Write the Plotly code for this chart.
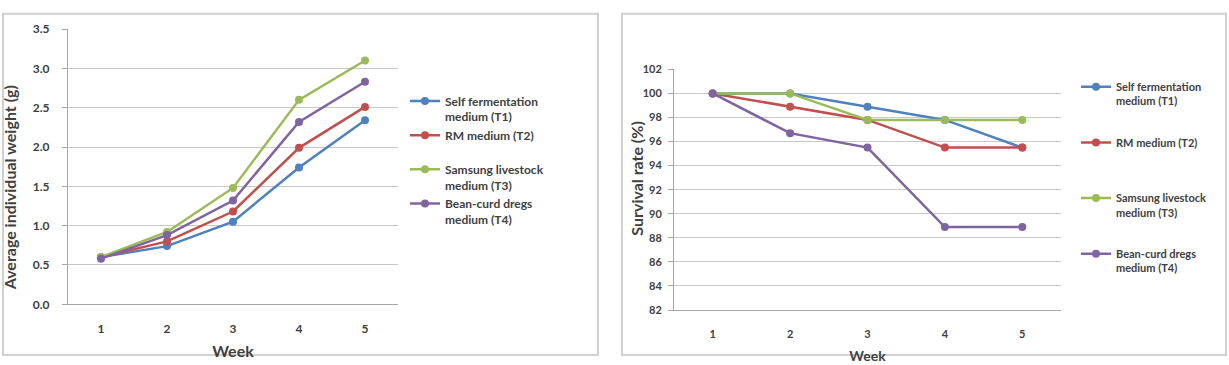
import plotly.graph_objects as go

weeks = [1, 2, 3, 4, 5]
series_names = ["Self fermentation<br>medium (T1)", "RM medium (T2)<br> ",
                "Samsung livestock<br>medium (T3)", "Bean-curd dregs<br>medium (T4)"]
colors = ["#4F81BD", "#C0504D", "#9BBB59", "#8064A2"]

weight_T1 = [0.60, 0.74, 1.05, 1.74, 2.34]
weight_T2 = [0.60, 0.80, 1.18, 1.99, 2.51]
weight_T3 = [0.60, 0.92, 1.48, 2.60, 3.10]
weight_T4 = [0.58, 0.88, 1.32, 2.32, 2.83]

surv_T1 = [100, 100, 98.9, 97.8, 95.5]
surv_T2 = [100, 98.9, 97.8, 95.5, 95.5]
surv_T3 = [100, 100, 97.8, 97.8, 97.8]
surv_T4 = [100, 96.7, 95.5, 88.9, 88.9]

weights = [weight_T1, weight_T2, weight_T3, weight_T4]
survs = [surv_T1, surv_T2, surv_T3, surv_T4]

W, H = 1229, 365
FONT = "Lato"
TXT = "#404040"

fig = go.Figure()
for i in range(4):
    fig.add_trace(go.Scatter(x=weeks, y=weights[i], name=series_names[i],
                             mode="lines+markers", line=dict(color=colors[i], width=2.5),
                             marker=dict(size=8, color=colors[i]),
                             xaxis="x", yaxis="y", legend="legend", legendgroup="a%d" % i))
for i in range(4):
    fig.add_trace(go.Scatter(x=weeks, y=survs[i], name=series_names[i],
                             mode="lines+markers", line=dict(color=colors[i], width=2.5),
                             marker=dict(size=8, color=colors[i]),
                             xaxis="x2", yaxis="y2", legend="legend2", legendgroup="b%d" % i))

def px(x):
    return x / W

def py(y):
    return 1 - y / H

grid = "#c8c8c8"
axline = "#a6a6a6"

def xax(title_size, lab_size, lab_off, title_off):
    return dict(tickmode="array", tickvals=weeks, range=[0.5, 5.5], showgrid=False,
                showline=True, linecolor=axline, linewidth=1, ticks="", zeroline=False,
                ticklabelstandoff=lab_off,
                tickfont=dict(family=FONT, size=lab_size, color=TXT, weight="bold"),
                title=dict(text="Week", font=dict(family=FONT, size=title_size, color=TXT, weight="bold"), standoff=title_off))

def yax(lab_size, lab_off):
    return dict(showgrid=True, gridcolor=grid, gridwidth=1, showline=True, linecolor=axline,
                linewidth=1, ticks="outside", ticklen=5, tickcolor=axline, zeroline=False,
                ticklabelstandoff=lab_off,
                tickfont=dict(family=FONT, size=lab_size, color=TXT, weight="bold"))

fig.update_layout(
    width=W, height=H, margin=dict(l=0, r=0, t=0, b=0),
    paper_bgcolor="white", plot_bgcolor="white",
    xaxis=dict(domain=[px(68), px(398)], anchor="y", **xax(16, 12, 13, 11)),
    yaxis=dict(domain=[py(309), py(22)], anchor="x", range=[0, 3.5], dtick=0.5, tickformat=".1f",
               **yax(12, 10)),
    xaxis2=dict(domain=[px(674), px(1061)], anchor="y2", **xax(14, 11, 14, 11)),
    yaxis2=dict(domain=[py(315), py(64)], anchor="x2", range=[82, 102], dtick=2,
                **yax(11, 4)),
    legend=dict(x=px(405), y=py(82), xanchor="left", yanchor="top", valign="top",
                font=dict(family=FONT, size=12, color=TXT, weight="bold"), tracegroupgap=0,
                bgcolor="rgba(0,0,0,0)", itemwidth=30),
    legend2=dict(x=px(1076), y=py(68), xanchor="left", yanchor="top", valign="top",
                 font=dict(family=FONT, size=11, color=TXT, weight="bold"), tracegroupgap=24,
                 bgcolor="rgba(0,0,0,0)", itemwidth=30),
    showlegend=True,
)

# y-axis titles (placed as in the reference, offset from the plot centre)
fig.add_annotation(text="<b>Average individual weight (g)</b>", xref="paper", yref="paper",
                   x=px(9), y=py(188), textangle=-90, showarrow=False,
                   xanchor="center", yanchor="middle",
                   font=dict(family=FONT, size=16, color=TXT))
fig.add_annotation(text="<b>Survival rate (%)</b>", xref="paper", yref="paper",
                   x=px(637), y=py(178), textangle=-90, showarrow=False,
                   xanchor="center", yanchor="middle",
                   font=dict(family=FONT, size=16, color=TXT))

fig.add_shape(type="rect", xref="paper", yref="paper", x0=px(3), x1=px(598), y0=py(362), y1=py(6),
              line=dict(color="#d0d0d0", width=2), layer="below")
fig.add_shape(type="rect", xref="paper", yref="paper", x0=px(622), x1=px(1226), y0=py(362), y1=py(6),
              line=dict(color="#d0d0d0", width=2), layer="below")

fig.write_html("out.html")
